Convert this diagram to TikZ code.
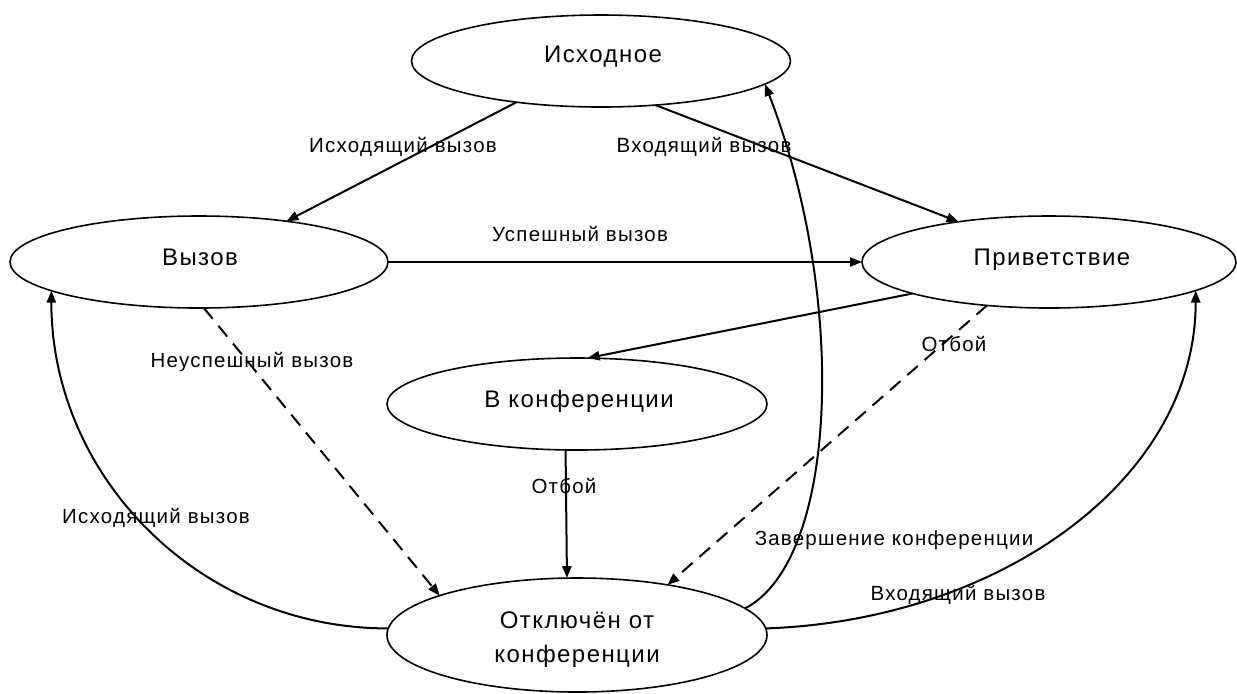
\documentclass[tikz,border=0pt]{standalone}
\usepackage{fontspec}
\setmainfont{Liberation Sans}
\newfontfamily\stfont[LetterSpace=6]{Liberation Sans}
\usetikzlibrary{arrows.meta,shapes.geometric}
\tikzset{
  st/.style={draw, ellipse, line width=0.8pt, inner sep=0pt, outer sep=0pt},
  sttext/.style={anchor=base, inner sep=0pt, font=\stfont\fontsize{12}{14}\selectfont},
  lab/.style={anchor=base, inner sep=0pt, font=\stfont\fontsize{10.25}{12}\selectfont},
  conn/.style={line width=1pt, -{Triangle[length=6pt,width=4.6pt]}},
  dconn/.style={conn, dash pattern=on 7pt off 4.5pt},
}
\begin{document}
\begin{tikzpicture}[x=0.5pt,y=-0.5pt]
\useasboundingbox (0,0) rectangle (1237,693);
% states
\node[st, minimum width=189.5pt, minimum height=46pt] (A) at (601,61) {};
\node[st, minimum width=189pt, minimum height=46pt] (B) at (199,262) {};
\node[st, minimum width=187pt, minimum height=46pt] (C) at (1049,262) {};
\node[st, minimum width=190pt, minimum height=46pt] (D) at (577,404) {};
\node[st, minimum width=190pt, minimum height=57pt] (E) at (577,635) {};
% state texts
\node[sttext] (tA) at (603,62) {Исходное};
\node[sttext] (tB) at (200,265) {Вызов};
\node[sttext] (tC) at (1052,265) {Приветствие};
\node[sttext] (tD) at (579,407) {В конференции};
\node[sttext] (tE1) at (577,628) {Отключён от};
\node[sttext] (tE2) at (577,662) {конференции};
% connectors
\draw[conn] (A.206) -- (B.25);
\draw[conn] (A.321) -- (C.156);
\draw[conn] (B.east) -- (C.west);
\draw[conn] (C.193) -- (D.77);
\draw[dconn] (B.276) -- (E.164);
\draw[dconn] (C.215) -- (E.29);
\draw[conn] (D.256.5) -- (E.100);
\draw[conn] (E.178) .. controls +(-190,0) and +(0,185) .. (B.191);
\draw[conn] (E.9) .. controls +(93,-48) and +(83,215) .. (A.352);
\draw[conn] (E.2) .. controls +(233,-8) and +(0,190) .. (C.349);
% labels
\node[lab] (l1) at (403,152) {Исходящий вызов};
\node[lab] (l2) at (704,152) {Входящий вызов};
\node[lab] (l3) at (580,241) {Успешный вызов};
\node[lab] (l4) at (252,367) {Неуспешный вызов};
\node[lab] (l5) at (954,351) {Отбой};
\node[lab] (l6) at (564,493) {Отбой};
\node[lab] (l7) at (156,523) {Исходящий вызов};
\node[lab] (l8) at (894,545) {Завершение конференции};
\node[lab] (l9) at (958,600) {Входящий вызов};
\end{tikzpicture}
\end{document}
